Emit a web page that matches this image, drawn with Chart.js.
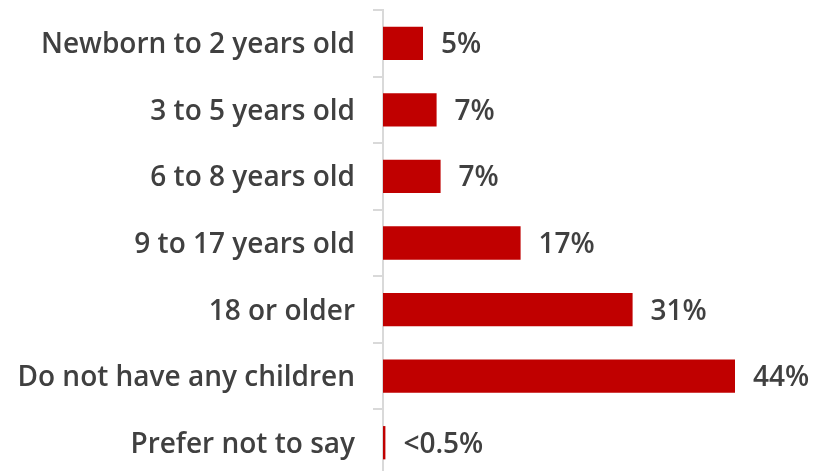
<!DOCTYPE html>
<html>
<head>
<meta charset="utf-8">
<script src="https://cdn.jsdelivr.net/npm/chart.js@4/dist/chart.umd.min.js"></script>
<style>
  html, body { margin: 0; padding: 0; background: #ffffff; overflow: hidden; }
  #wrap { width: 818px; height: 476px; }
</style>
</head>
<body>
<div id="wrap"><canvas id="c" width="818" height="476"></canvas></div>
<script>
const categories = [
  'Newborn to 2 years old',
  '3 to 5 years old',
  '6 to 8 years old',
  '9 to 17 years old',
  '18 or older',
  'Do not have any children',
  'Prefer not to say'
];
const values = [5, 6.7, 7.2, 17.2, 31.2, 44, 0.3];
const valueLabels = ['5%', '7%', '7%', '17%', '31%', '44%', '<0.5%'];

const FONT = '"Open Sans", "Liberation Sans", Arial, sans-serif';
const TEXT = '#404040';

const dataLabelPlugin = {
  id: 'dataLabelPlugin',
  afterDatasetsDraw(chart) {
    const ctx = chart.ctx;
    const meta = chart.getDatasetMeta(0);
    ctx.save();
    ctx.font = '600 28px ' + FONT;
    ctx.fillStyle = TEXT;
    ctx.textAlign = 'left';
    ctx.textBaseline = 'middle';
    meta.data.forEach((el, i) => {
      ctx.fillText(valueLabels[i], el.x + 18, el.y + 2);
    });
    ctx.restore();
  }
};

new Chart(document.getElementById('c'), {
  type: 'bar',
  data: {
    labels: categories,
    datasets: [{
      data: values,
      backgroundColor: '#C00000',
      borderWidth: 0,
      categoryPercentage: 1.0,
      barPercentage: 0.5
    }]
  },
  options: {
    indexAxis: 'y',
    responsive: false,
    animation: false,
    layout: { padding: { top: 10, left: 0, right: 0, bottom: 0 } },
    plugins: {
      legend: { display: false },
      tooltip: { enabled: false }
    },
    scales: {
      x: {
        display: false,
        min: 0,
        max: 54.375
      },
      y: {
        afterFit(scale) {
          scale.width = 383;
          scale.paddingTop = 0;
          scale.paddingBottom = 0;
        },
        border: { display: true, color: '#D9D9D9', width: 2 },
        grid: {
          drawOnChartArea: false,
          drawTicks: true,
          tickLength: 10,
          color: '#D9D9D9',
          lineWidth: 2,
          offset: true
        },
        ticks: {
          color: TEXT,
          padding: 18,
          labelOffset: 2,
          font: { family: FONT, size: 28, weight: '600' }
        }
      }
    }
  },
  plugins: [dataLabelPlugin]
});
</script>
</body>
</html>
